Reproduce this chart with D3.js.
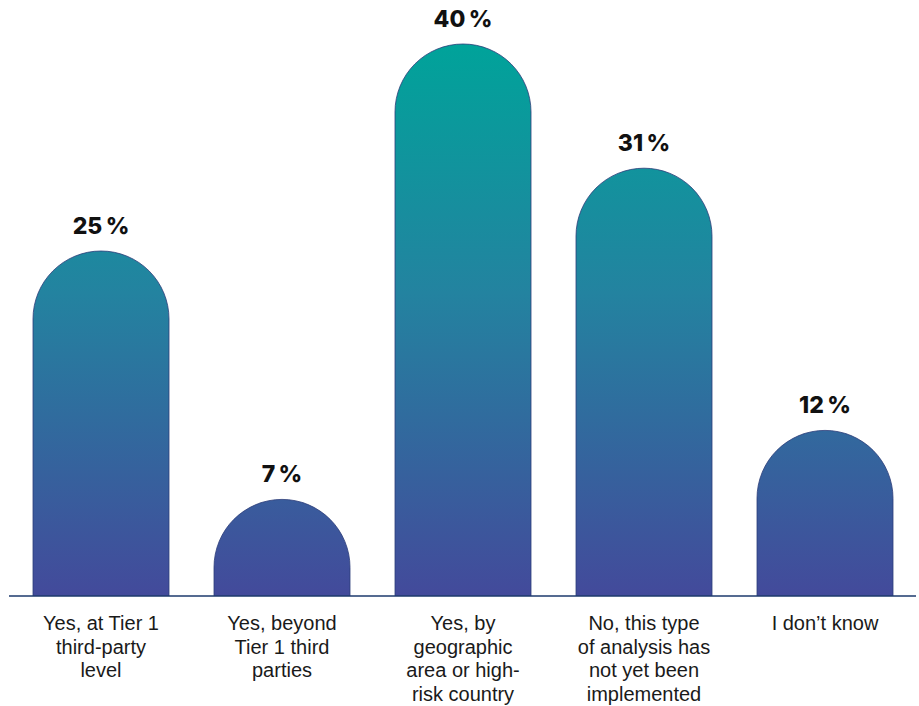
<!DOCTYPE html>
<html>
<head>
<meta charset="utf-8">
<script src="https://cdn.jsdelivr.net/npm/d3@7/dist/d3.min.js"></script>
<style>
  html, body { margin: 0; padding: 0; background: #ffffff; }
  svg { display: block; }
</style>
</head>
<body>
<svg id="chart" width="919" height="706"></svg>
<script>
// Survey answers and their shares (%)
const categories = [
  ["Yes, at Tier 1", "third-party", "level"],
  ["Yes, beyond", "Tier 1 third", "parties"],
  ["Yes, by", "geographic", "area or high-", "risk country"],
  ["No, this type", "of analysis has", "not yet been", "implemented"],
  ["I don\u2019t know"]
];
const values = [25, 7, 40, 31, 12];
const valueLabels = ["25\u2009%", "7\u2009%", "40\u2009%", "31\u2009%", "12\u2009%"];

const W = 919, H = 706;
const baseY = 596;

const svg = d3.select("#chart");

const x = d3.scaleBand()
  .domain(d3.range(values.length))
  .range([33, 893])
  .paddingInner(45 / 181)
  .paddingOuter(0);

const y = d3.scaleLinear()
  .domain([0, 40])
  .range([baseY, 44]);

// Shared vertical gradient across every bar
const defs = svg.append("defs");
const grad = defs.append("linearGradient")
  .attr("id", "barGrad")
  .attr("gradientUnits", "userSpaceOnUse")
  .attr("x1", 0).attr("x2", 0)
  .attr("y1", y(40)).attr("y2", baseY);
grad.append("stop").attr("offset", "0%").attr("stop-color", "#00a39a");
grad.append("stop").attr("offset", "45%").attr("stop-color", "#2383a0");
grad.append("stop").attr("offset", "100%").attr("stop-color", "#434a9b");

const bw = x.bandwidth();
const r = bw / 2;

function barPath(i) {
  const x0 = x(i), x1 = x0 + bw;
  const top = y(values[i]);
  const h = baseY - top;
  const p = d3.path();
  if (h >= r) {
    p.moveTo(x0, baseY);
    p.lineTo(x0, top + r);
    p.arc(x0 + r, top + r, r, Math.PI, 2 * Math.PI);
    p.lineTo(x1, baseY);
  } else {
    p.moveTo(x0, baseY);
    p.arc(x0 + r, baseY, r, Math.PI, 2 * Math.PI);
  }
  return p.toString();
}

svg.append("g")
  .selectAll("path")
  .data(values)
  .join("path")
  .attr("d", (d, i) => barPath(i))
  .attr("fill", "url(#barGrad)")
  .attr("stroke", "#2c3c78")
  .attr("stroke-width", 0.8);

// Baseline
svg.append("line")
  .attr("x1", 9).attr("x2", 916)
  .attr("y1", baseY).attr("y2", baseY)
  .attr("stroke", "#1d3a6c")
  .attr("stroke-width", 1.5);

// Value labels
svg.append("g")
  .selectAll("text")
  .data(values)
  .join("text")
  .attr("x", (d, i) => x(i) + bw / 2)
  .attr("y", d => y(d) - 17)
  .attr("text-anchor", "middle")
  .attr("font-family", "Inter, 'Liberation Sans', sans-serif")
  .attr("font-weight", 800)
  .attr("font-size", 23)
  .attr("fill", "#111")
  .text((d, i) => valueLabels[i]);

// Category labels
const cat = svg.append("g")
  .selectAll("text")
  .data(categories)
  .join("text")
  .attr("x", (d, i) => x(i) + bw / 2)
  .attr("y", 630)
  .attr("text-anchor", "middle")
  .attr("font-family", "'Liberation Sans', Arial, sans-serif")
  .attr("font-size", 20)
  .attr("fill", "#1a1a1a");

cat.selectAll("tspan")
  .data(d => d)
  .join("tspan")
  .attr("x", function () { return d3.select(this.parentNode).attr("x"); })
  .attr("dy", (d, j) => j === 0 ? 0 : 23.5)
  .text(d => d);
</script>
</body>
</html>
